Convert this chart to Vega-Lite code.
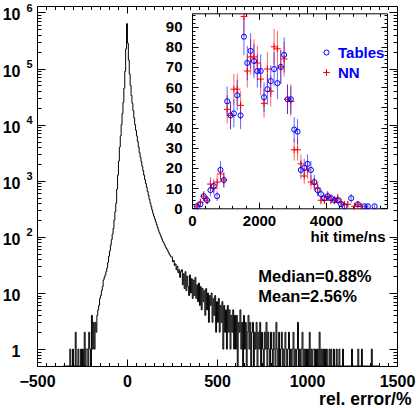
{
  "$schema": "https://vega.github.io/schema/vega-lite/v6.json",
  "width": 360,
  "height": 360,
  "autosize": {"type": "none"},
  "padding": {"left": 37, "top": 6, "right": 19, "bottom": 42},
  "background": "white",
  "config": {
    "font": "Liberation Sans",
    "view": {"stroke": null},
    "axis": {"grid": false, "domainColor": "black", "tickColor": "black", "labelColor": "black", "titleColor": "black", "labelFont": "Liberation Sans", "labelFontWeight": "bold", "titleFont": "Liberation Sans", "titleFontWeight": "bold", "labelFlush": false, "labelOverlap": false, "labelBound": false, "domainWidth": 1, "tickWidth": 1, "format": "d"}
  },
  "layer": [
    {
      "layer": [
        {
          "data": {"values": "x,c\n-355,0\n-350,0\n-345,0\n-340,0\n-335,0\n-330,0\n-325,0\n-320,0\n-315,1\n-310,0\n-305,0\n-300,1\n-295,0\n-290,0\n-285,2\n-280,0\n-275,0\n-270,1\n-265,0\n-260,0\n-255,1\n-250,0\n-245,1\n-240,0\n-235,2\n-230,0\n-225,1\n-220,1\n-215,0\n-210,2\n-205,1\n-200,0\n-195,4\n-190,1\n-185,3\n-180,1\n-175,3\n-170,2\n-165,4\n-160,5\n-155,6\n-150,8\n-145,9\n-140,11\n-135,13\n-130,17\n-125,19\n-120,21\n-115,24\n-110,28\n-105,35\n-100,45\n-95,56\n-90,71\n-85,89\n-80,112\n-75,141\n-70,200\n-65,282\n-60,398\n-55,708\n-50,1260\n-45,2240\n-40,3980\n-35,6310\n-30,10000\n-25,15800\n-20,25100\n-15,44700\n-10,89000\n-5,224000\n0,630000\n5,282000\n10,141000\n15,79400\n20,50100\n25,33100\n30,24000\n35,17800\n40,13200\n45,10000\n50,7940\n55,6310\n60,5010\n65,3980\n70,3160\n75,2630\n80,2190\n85,1820\n90,1510\n95,1260\n100,1050\n105,891\n110,759\n115,646\n120,550\n125,468\n130,398\n135,347\n140,302\n145,263\n150,234\n155,209\n160,186\n165,166\n170,148\n175,132\n180,120\n185,110\n190,100\n195,91\n200,83\n205,78\n210,72\n215,66\n220,62\n225,58\n230,54\n235,50\n240,47\n245,44\n250,44\n255,36\n260,38\n265,31\n270,33\n275,26\n280,30\n285,23\n290,26\n295,19\n300,24\n305,26\n310,14\n315,22\n320,12\n325,24\n330,11\n335,20\n340,13\n345,9\n350,21\n355,10\n360,18\n365,8\n370,17\n375,9\n380,19\n385,8\n390,14\n395,7\n400,15\n405,6\n410,13\n415,5\n420,12\n425,7\n430,11\n435,4\n440,12\n445,5\n450,10\n455,3\n460,9\n465,6\n470,10\n475,3\n480,8\n485,4\n490,9\n495,2\n500,7\n505,3\n510,8\n515,2\n520,6\n525,3\n530,7\n535,1\n540,6\n545,2\n550,5\n555,1\n560,6\n565,2\n570,5\n575,1\n580,4\n585,2\n590,5\n595,1\n600,4\n605,1\n610,4\n615,0\n620,3\n625,2\n630,5\n635,1\n640,3\n645,0\n650,4\n655,1\n660,3\n665,0\n670,2\n675,4\n680,1\n685,3\n690,0\n695,2\n700,3\n705,0\n710,2\n715,1\n720,3\n725,0\n730,2\n735,1\n740,3\n745,0\n750,2\n755,1\n760,0\n765,2\n770,1\n775,3\n780,0\n785,2\n790,1\n795,0\n800,2\n805,1\n810,0\n815,2\n820,1\n825,0\n830,3\n835,1\n840,0\n845,2\n850,0\n855,1\n860,2\n865,0\n870,1\n875,0\n880,2\n885,1\n890,0\n895,1\n900,2\n905,0\n910,1\n915,0\n920,1\n925,2\n930,0\n935,1\n940,0\n945,1\n950,3\n955,0\n960,1\n965,0\n970,1\n975,2\n980,0\n985,1\n990,0\n995,1\n1000,0\n1005,1\n1010,0\n1015,2\n1020,0\n1025,1\n1030,0\n1035,1\n1040,1\n1045,0\n1050,1\n1055,0\n1060,1\n1065,0\n1070,2\n1075,0\n1080,1\n1085,0\n1090,1\n1095,0\n1100,1\n1105,0\n1110,1\n1115,0\n1120,0\n1125,1\n1130,0\n1135,1\n1140,0\n1145,0\n1150,1\n1155,0\n1160,0\n1165,1\n1170,0\n1175,0\n1180,1\n1185,0\n1190,0\n1195,0\n1200,1\n1205,0\n1210,0\n1215,0\n1220,0\n1225,0\n1230,0\n1235,0\n1240,0\n1245,0\n1250,1\n1255,0\n1260,0\n1265,0\n1270,0\n1275,0\n1280,0\n1285,1\n1290,0\n1295,0\n1300,0\n1305,1\n1310,0\n1315,0\n1320,0\n1325,0\n1330,0\n1335,0\n1340,0\n1345,0\n1350,0\n1355,0\n1360,1\n1365,0\n1370,0\n1375,0\n1380,0\n1385,0\n1390,0\n1395,0\n1400,0", "format": {"type": "csv", "parse": {"x": "number", "c": "number"}}},
          "mark": {"type": "line", "interpolate": "step", "stroke": "black", "strokeWidth": 1, "clip": true},
          "encoding": {
            "x": {"field": "x", "type": "quantitative", "scale": {"domain": [-500, 1500], "nice": false, "zero": false},
              "axis": {"orient": "bottom", "title": null, "labels": false, "values": [-500,-450,-400,-350,-300,-250,-200,-150,-100,-50,0,50,100,150,200,250,300,350,400,450,500,550,600,650,700,750,800,850,900,950,1000,1050,1100,1150,1200,1250,1300,1350,1400,1450,1500],
                "tickSize": {"condition": {"test": "datum.value % 500 === 0", "value": -7}, "value": -3.5}}},
            "y": {"field": "c", "type": "quantitative", "scale": {"type": "log", "domain": [0.5, 1300000], "nice": false, "clamp": true},
              "axis": {"orient": "left", "title": null, "labels": false, "values": [0.6,0.7,0.8,0.9,1,2,3,4,5,6,7,8,9,10,20,30,40,50,60,70,80,90,100,200,300,400,500,600,700,800,900,1000,2000,3000,4000,5000,6000,7000,8000,9000,10000,20000,30000,40000,50000,60000,70000,80000,90000,100000,200000,300000,400000,500000,600000,700000,800000,900000,1000000],
                "tickSize": {"condition": {"test": "abs(log(datum.value)/LN10 - round(log(datum.value)/LN10)) < 0.001", "value": -8}, "value": -4}}}
          }
        },
        {
          "data": {"values": [{}]},
          "mark": {"type": "text", "align": "left", "baseline": "alphabetic", "fontSize": 16.5, "fontWeight": "bold", "font": "Liberation Sans", "color": "black"},
          "encoding": {
            "text": {"value": "Median=0.88%"},
            "x": {"datum": 729, "type": "quantitative",
              "axis": {"orient": "bottom", "values": [-500, 0, 500, 1000, 1500], "ticks": false, "domain": false, "labelPadding": 7, "labelFontSize": 16, "title": "rel. error/%", "titleFontSize": 17.5, "titleX": 374, "titleY": 38.5, "titleAlign": "right", "titleBaseline": "alphabetic"}},
            "y": {"datum": 15.9, "type": "quantitative",
              "axis": {"orient": "left", "values": [1, 10, 100, 1000, 10000, 100000, 1000000], "ticks": false, "domain": false, "labelPadding": 17, "labelFontSize": 16, "labelExpr": "datum.value < 5 ? '1' : '10'", "labelOffset": 2.5, "title": null}}
          }
        },
        {
          "data": {"values": [{}]},
          "mark": {"type": "text", "align": "left", "baseline": "alphabetic", "fontSize": 16.5, "fontWeight": "bold", "font": "Liberation Sans", "color": "black"},
          "encoding": {
            "text": {"value": "Mean=2.56%"},
            "x": {"datum": 729, "type": "quantitative",
              "axis": {"orient": "top", "title": null, "labels": false, "values": [-500,-450,-400,-350,-300,-250,-200,-150,-100,-50,0,50,100,150,200,250,300,350,400,450,500,550,600,650,700,750,800,850,900,950,1000,1050,1100,1150,1200,1250,1300,1350,1400,1450,1500],
                "tickSize": {"condition": {"test": "datum.value % 500 === 0", "value": -7}, "value": -3.5}}},
            "y": {"datum": 7.0, "type": "quantitative",
              "axis": {"orient": "left", "values": [100, 1000, 10000, 100000, 1000000], "ticks": false, "domain": false, "labelPadding": 5, "labelFontSize": 11, "labelExpr": "round(log(datum.value)/LN10) + ''", "labelOffset": -4, "title": null}}
          }
        },
        {
          "data": {"values": [{}]},
          "mark": {"type": "text", "text": ""},
          "encoding": {
            "x": {"datum": 0, "type": "quantitative", "axis": null},
            "y": {"datum": 1, "type": "quantitative",
              "axis": {"orient": "right", "title": null, "labels": false, "values": [0.6,0.7,0.8,0.9,1,2,3,4,5,6,7,8,9,10,20,30,40,50,60,70,80,90,100,200,300,400,500,600,700,800,900,1000,2000,3000,4000,5000,6000,7000,8000,9000,10000,20000,30000,40000,50000,60000,70000,80000,90000,100000,200000,300000,400000,500000,600000,700000,800000,900000,1000000],
                "tickSize": {"condition": {"test": "abs(log(datum.value)/LN10 - round(log(datum.value)/LN10)) < 0.001", "value": -8}, "value": -4}}}
          }
        }
      ],
      "resolve": {"axis": {"x": "independent", "y": "independent"}}
    },
    {
      "data": {"values": "t,s,v,lo,hi\n150,NN,1,0,2\n250,NN,3,1.3,4.7\n350,NN,6,3.6,8.4\n450,NN,4,2,6\n550,NN,12,8.5,15.5\n650,NN,10,6.8,13.2\n750,NN,13,9.4,16.6\n850,NN,17,12.9,21.1\n950,NN,14,10.3,17.7\n1050,NN,49,42,56\n1150,NN,46,39.2,52.8\n1250,NN,59,51.3,66.7\n1350,NN,59,51.3,66.7\n1450,NN,51,43.9,58.1\n1550,NN,95,85.3,104.7\n1650,NN,68,59.8,76.2\n1750,NN,75,66.3,83.7\n1850,NN,75,66.3,83.7\n1950,NN,72,63.5,80.5\n2050,NN,64,56,72\n2150,NN,52,44.8,59.2\n2250,NN,69,60.7,77.3\n2350,NN,58,50.4,65.6\n2450,NN,80,71.1,88.9\n2550,NN,79,70.1,87.9\n2650,NN,70,61.6,78.4\n2750,NN,74,65.4,82.6\n2850,NN,54,46.7,61.3\n2950,NN,53,45.7,60.3\n3050,NN,29,23.6,34.4\n3150,NN,29,23.6,34.4\n3250,NN,22,17.3,26.7\n3350,NN,16,12,20\n3450,NN,19,14.6,23.4\n3550,NN,13,9.4,16.6\n3650,NN,12,8.5,15.5\n3750,NN,10,6.8,13.2\n3850,NN,4,2,6\n3950,NN,4,2,6\n4050,NN,6,3.6,8.4\n4150,NN,4,2,6\n4250,NN,4,2,6\n4350,NN,5,2.8,7.2\n4450,NN,3,1.3,4.7\n4550,NN,2,0.6,3.4\n4650,NN,2,0.6,3.4\n4850,NN,1,0,2\n4950,NN,2,0.6,3.4\n5050,NN,1,0,2\n150,Tables,1,0,2\n250,Tables,2,0.6,3.4\n350,Tables,6,3.6,8.4\n450,Tables,4,2,6\n550,Tables,9,6,12\n650,Tables,11,7.7,14.3\n750,Tables,6,3.6,8.4\n850,Tables,19,14.6,23.4\n950,Tables,14,10.3,17.7\n1050,Tables,53,45.7,60.3\n1150,Tables,46,39.2,52.8\n1250,Tables,47,40.1,53.9\n1350,Tables,56,48.5,63.5\n1450,Tables,46,39.2,52.8\n1550,Tables,85,75.8,94.2\n1650,Tables,72,63.5,80.5\n1750,Tables,78,69.2,86.8\n1850,Tables,73,64.5,81.5\n1950,Tables,68,59.8,76.2\n2050,Tables,68,59.8,76.2\n2150,Tables,55,47.6,62.4\n2250,Tables,59,51.3,66.7\n2350,Tables,63,55.1,70.9\n2450,Tables,69,60.7,77.3\n2550,Tables,62,54.1,69.9\n2650,Tables,70,61.6,78.4\n2750,Tables,76,67.3,84.7\n2850,Tables,54,46.7,61.3\n2950,Tables,54,46.7,61.3\n3050,Tables,39,32.8,45.2\n3150,Tables,38,31.8,44.2\n3250,Tables,19,14.6,23.4\n3350,Tables,20,15.5,24.5\n3450,Tables,22,17.3,26.7\n3550,Tables,19,14.6,23.4\n3650,Tables,13,9.4,16.6\n3750,Tables,9,6,12\n3850,Tables,7,4.4,9.6\n3950,Tables,5,2.8,7.2\n4050,Tables,6,3.6,8.4\n4150,Tables,5,2.8,7.2\n4250,Tables,4,2,6\n4350,Tables,4,2,6\n4450,Tables,2,0.6,3.4\n4550,Tables,1,0,2\n4750,Tables,5,2.8,7.2\n4950,Tables,2,0.6,3.4\n5150,Tables,1,0,2\n5250,Tables,1,0,2\n5450,Tables,1,0,2", "format": {"type": "csv", "parse": {"t": "number", "v": "number", "lo": "number", "hi": "number"}}},
      "layer": [
        {
          "transform": [{"filter": "datum.s === 'NN'"}],
          "mark": {"type": "rule", "strokeWidth": 1, "opacity": 0.6, "color": "#ff0000"},
          "encoding": {
            "x": {"field": "t", "type": "quantitative", "scale": {"domain": [0, 5820], "range": [155, 350], "nice": false, "zero": false},
              "axis": {"orient": "bottom", "offset": -157.7, "title": null, "labels": false, "values": [0,400,800,1200,1600,2000,2400,2800,3200,3600,4000,4400,4800,5200,5600],
                "tickSize": {"condition": {"test": "datum.value % 2000 === 0", "value": -6}, "value": -3}}},
            "y": {"field": "lo", "type": "quantitative", "scale": {"domain": [0, 96.6], "range": [202.3, 7.3], "nice": false, "zero": false, "clamp": true},
              "axis": {"orient": "left", "offset": -155, "title": null, "labels": false, "values": [0,2,4,6,8,10,12,14,16,18,20,22,24,26,28,30,32,34,36,38,40,42,44,46,48,50,52,54,56,58,60,62,64,66,68,70,72,74,76,78,80,82,84,86,88,90,92,94,96],
                "tickSize": {"condition": {"test": "datum.value % 10 === 0", "value": -6}, "value": -3}}},
            "y2": {"field": "hi"}
          }
        },
        {
          "transform": [{"filter": "datum.s === 'Tables'"}],
          "mark": {"type": "rule", "strokeWidth": 1, "opacity": 0.6, "color": "#0000ff"},
          "encoding": {
            "x": {"field": "t", "type": "quantitative", "axis": null},
            "y": {"field": "lo", "type": "quantitative", "axis": null},
            "y2": {"field": "hi"}
          }
        },
        {
          "mark": {"type": "point", "filled": false, "strokeWidth": 1, "opacity": 1},
          "encoding": {
            "x": {"field": "t", "type": "quantitative",
              "axis": {"orient": "bottom", "offset": -157.7, "values": [0, 2000, 4000], "ticks": false, "domain": false, "labelPadding": 5, "labelFontSize": 15, "title": "hit time/ns", "titleFontSize": 15, "titleX": 348, "titleY": 33, "titleAlign": "right", "titleBaseline": "alphabetic"}},
            "y": {"field": "v", "type": "quantitative",
              "axis": {"orient": "left", "offset": -155, "values": [0,10,20,30,40,50,60,70,80,90], "ticks": false, "domain": false, "labelPadding": 10, "labelFontSize": 15, "title": null}},
            "color": {"field": "s", "type": "nominal", "scale": {"domain": ["Tables", "NN"], "range": ["#0000ff", "#ff0000"]},
              "legend": {"orient": "none", "legendX": 282, "legendY": 39, "title": null, "padding": 0, "labelFont": "Liberation Sans", "labelFontWeight": "bold", "labelFontSize": 15, "labelColor": "#0000ff", "labelOffset": 4, "rowPadding": 4, "symbolStrokeWidth": 1,
                "encode": {"labels": {"update": {"fill": {"signal": "datum.label === 'NN' ? '#ff0000' : '#0000ff'"}}}}}},
            "shape": {"field": "s", "type": "nominal", "scale": {"domain": ["Tables", "NN"], "range": ["circle", "M-1,0H1M0,-1V1"]}},
            "size": {"field": "s", "type": "nominal", "scale": {"domain": ["Tables", "NN"], "range": [26, 45]}}
          }
        },
        {
          "mark": {"type": "point", "opacity": 0},
          "encoding": {
            "x": {"field": "t", "type": "quantitative",
              "axis": {"orient": "top", "offset": -7.3, "title": null, "labels": false, "values": [0,400,800,1200,1600,2000,2400,2800,3200,3600,4000,4400,4800,5200,5600],
                "tickSize": {"condition": {"test": "datum.value % 2000 === 0", "value": -6}, "value": -3}}},
            "y": {"field": "v", "type": "quantitative",
              "axis": {"orient": "right", "offset": -10, "title": null, "labels": false, "values": [0,2,4,6,8,10,12,14,16,18,20,22,24,26,28,30,32,34,36,38,40,42,44,46,48,50,52,54,56,58,60,62,64,66,68,70,72,74,76,78,80,82,84,86,88,90,92,94,96],
                "tickSize": {"condition": {"test": "datum.value % 10 === 0", "value": -6}, "value": -3}}}
          }
        }
      ],
      "resolve": {"axis": {"x": "independent", "y": "independent"}}
    }
  ],
  "resolve": {"scale": {"x": "independent", "y": "independent"}, "axis": {"x": "independent", "y": "independent"}}
}
